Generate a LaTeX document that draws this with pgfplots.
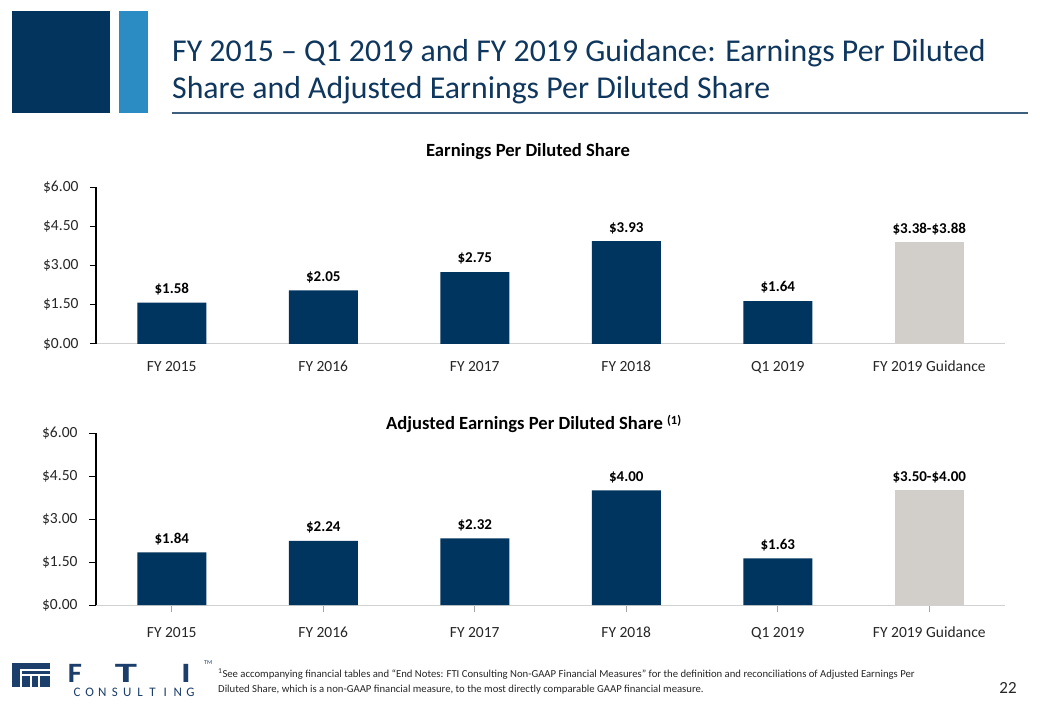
\documentclass[border=0pt]{standalone}
\usepackage{pgfplots}
\pgfplotsset{compat=1.18}
\usepackage{fontspec}
\setmainfont{Carlito}
\definecolor{barnavy}{HTML}{00355F}
\definecolor{guidegray}{HTML}{D2CECA}
\definecolor{titlenavy}{HTML}{0F375E}
\definecolor{sqnavy}{HTML}{03345E}
\definecolor{sqblue}{HTML}{2B8CC4}
\definecolor{rulecol}{HTML}{3C5F80}
\definecolor{logonavy}{HTML}{1B3E6B}
\pgfplotsset{
  epsbar/.style={
    scale only axis, width=909pt,
    xmin=-0.5, xmax=5.5, ymin=0, ymax=6,
    axis x line=bottom, axis y line=left, axis line style={-},
    x axis line style={draw=black!18, line width=1pt},
    y axis line style={draw=black, line width=1.4pt},
    ytick={0,1.5,3,4.5,6},
    yticklabels={\$0.00,\$1.50,\$3.00,\$4.50,\$6.00},
    xtick={0,1,2,3,4,5},
    xticklabels={FY 2015,FY 2016,FY 2017,FY 2018,Q1 2019,FY 2019 Guidance},
    tick align=outside, major tick length=6pt,
    ytick style={draw=black, line width=1pt},
    tick label style={font=\fontsize{15.5}{18}\selectfont, text=black!85},
    yticklabel style={xshift=-8pt},
    xticklabel style={text height=10pt, text depth=2pt, yshift=-8pt},
    point meta=explicit symbolic,
    every node near coord/.append style={font=\bfseries\fontsize{15}{18}\selectfont, text=black, yshift=4pt},
    clip=false,
  },
  navybar/.style={ybar, bar width=69pt, bar shift=0pt, fill=barnavy, draw=none,
    nodes near coords={\$\pgfplotspointmeta}},
  graybar/.style={ybar, bar width=69pt, bar shift=0pt, fill=guidegray, draw=none},
}
\begin{document}
\begin{tikzpicture}[x=1pt,y=1pt]
\path[use as bounding box, fill=white] (0,0) rectangle (1040,720);
% header
\fill[sqnavy] (12,709) rectangle (110,607);
\fill[sqblue] (119,709) rectangle (148,607);
\node[anchor=base west, inner sep=0pt, text=titlenavy, font=\fontsize{31.8}{38}\selectfont] at (172,658) {FY 2015 – Q1 2019 and FY 2019 Guidance: Earnings Per Diluted};
\node[anchor=base west, inner sep=0pt, text=titlenavy, font=\fontsize{31.8}{38}\selectfont] at (172,621) {Share and Adjusted Earnings Per Diluted Share};
\draw[rulecol, line width=1.5pt] (172,607) -- (1028,607);
% chart titles
\node[font=\bfseries\fontsize{18.6}{21}\selectfont] at (528,568) {Earnings Per Diluted Share};
\node[anchor=west, inner sep=0pt, font=\bfseries\fontsize{18.6}{21}\selectfont] at (386,296) {Adjusted Earnings Per Diluted Share \raisebox{0.5ex}{\fontsize{12.5}{14}\selectfont(1)}};
% top axis
\begin{axis}[epsbar, height=157pt, at={(96pt,376pt)}, anchor=south west, xtick style={draw=none}]
\addplot[navybar] coordinates {(0,1.58) [1.58] (1,2.05) [2.05] (2,2.75) [2.75] (3,3.93) [3.93] (4,1.64) [1.64]};
\addplot[graybar, nodes near coords={\$3.38-\$3.88}] coordinates {(5,3.88) [x]};
\end{axis}
% bottom axis
\begin{axis}[epsbar, height=172pt, at={(96pt,115pt)}, anchor=south west, major tick length=7pt,
  xtick style={draw=black!35, line width=0.8pt}, xticklabel style={yshift=-4pt}]
\addplot[navybar] coordinates {(0,1.84) [1.84] (1,2.24) [2.24] (2,2.32) [2.32] (3,4.00) [4.00] (4,1.63) [1.63]};
\addplot[graybar, nodes near coords={\$3.50-\$4.00}] coordinates {(5,4.00) [x]};
\end{axis}
% logo
\fill[logonavy] (12,57) rectangle (50,33);
\fill[white] (20,51.5) rectangle (50,49.5);
\fill[white] (20,49.5) rectangle (22,33);
\foreach \xx in {30,38} {\fill[white] (\xx,46) rectangle (\xx+2,33);}
\fill[white] (22,46) rectangle (50,44.5);
\node[anchor=base, inner sep=0pt, text=logonavy, font=\bfseries\fontsize{28}{28}\selectfont, xscale=1.1] at (75,38) {F};
\node[anchor=base, inner sep=0pt, text=logonavy, font=\bfseries\fontsize{28}{28}\selectfont, xscale=1.6] at (126,38) {T};
\node[anchor=base, inner sep=0pt, text=logonavy, font=\bfseries\fontsize{28}{28}\selectfont, xscale=1.3] at (186,38) {I};
\node[anchor=base west, inner sep=0pt, text=logonavy, font=\fontsize{6}{6}\selectfont] at (204,56) {TM};
\foreach \ch [count=\i from 0] in {C,O,N,S,U,L,T,I,N,G} {
  \node[anchor=base, inner sep=0pt, text=logonavy, font=\fontsize{13}{13}\selectfont] at (77+\i*12.6,24) {\ch};
}
% footnote
\node[anchor=base west, inner sep=0pt, text=black!85, font=\fontsize{10.7}{12}\selectfont] at (218,43) {\textsuperscript{1}See accompanying financial tables and “End Notes: FTI Consulting Non-GAAP Financial Measures” for the definition and reconciliations of Adjusted Earnings Per};
\node[anchor=base west, inner sep=0pt, text=black!85, font=\fontsize{10.7}{12}\selectfont] at (218,28) {Diluted Share, which is a non-GAAP financial measure, to the most directly comparable GAAP financial measure.};
\node[anchor=base, inner sep=0pt, text=black!85, font=\fontsize{17}{20}\selectfont] at (1008,27) {22};
\end{tikzpicture}
\end{document}
